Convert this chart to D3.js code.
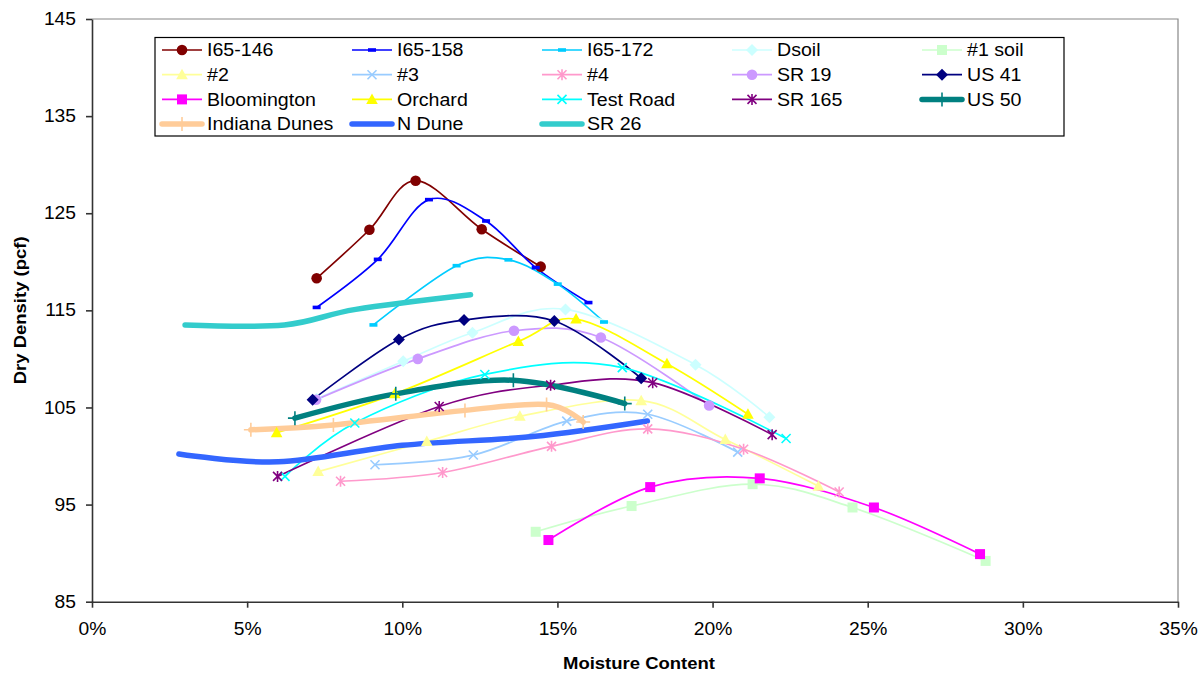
<!DOCTYPE html>
<html>
<head>
<meta charset="utf-8">
<script src="https://cdn.jsdelivr.net/npm/d3@7/dist/d3.min.js"></script>
<style>
  body { margin: 0; background: #fff; }
  text { font-family: "Liberation Sans", Arial, sans-serif; }
</style>
</head>
<body>
<div id="chart"></div>
<script>
// series, in Excel order: [moisture %, dry density pcf]
const seriesNames = ['I65-146', 'I65-158', 'I65-172', 'Dsoil', '#1 soil',
  '#2', '#3', '#4', 'SR 19', 'US 41',
  'Bloomington', 'Orchard', 'Test Road', 'SR 165', 'US 50',
  'Indiana Dunes', 'N Dune', 'SR 26'];

const seriesColors = ['#800000', '#0000FF', '#00CCFF', '#CCFFFF', '#CCFFCC',
  '#FFFF99', '#99CCFF', '#FF99CC', '#CC99FF', '#000080',
  '#FF00FF', '#FFFF00', '#00FFFF', '#800080', '#008080',
  '#FFCC99', '#3366FF', '#33CCCC'];

const seriesMarkers = ['circle', 'dash', 'dash', 'diamond', 'square',
  'triangle', 'x', 'star', 'circle', 'diamond',
  'square', 'triangle', 'x', 'star', 'plus',
  'plus', 'none', 'none'];

const thickSeries = ['US 50', 'Indiana Dunes', 'N Dune', 'SR 26'];

const i65_146 = [[7.24, 118.3], [8.94, 123.3], [10.43, 128.35], [12.56, 123.35], [14.46, 119.5]];
const i65_158 = [[7.24, 115.3], [9.21, 120.25], [10.86, 126.4], [12.7, 124.2], [14.3, 119.4], [16.0, 115.8]];
const i65_172 = [[9.07, 113.5], [11.75, 119.6], [13.42, 120.2], [15.01, 117.7], [16.5, 113.8]];
const dsoil = [[7.24, 105.9], [10.03, 109.75], [12.26, 112.7], [15.26, 115.1], [19.45, 109.4], [21.83, 104.0]];
const soil1 = [[14.3, 92.2], [17.39, 94.85], [21.29, 97.1], [24.51, 94.7], [28.8, 89.2]];
const soil2 = [[7.29, 98.4], [10.79, 101.5], [13.79, 104.1], [17.7, 105.7], [20.41, 101.7], [23.41, 96.9]];
const soil3 = [[9.12, 99.1], [12.29, 100.1], [15.3, 103.6], [17.91, 104.3], [20.81, 100.4]];
const soil4 = [[8.01, 97.4], [11.3, 98.3], [14.81, 101.0], [17.91, 102.8], [21.0, 100.7], [24.08, 96.3]];
const sr19 = [[7.22, 105.8], [10.5, 110.0], [13.6, 112.9], [16.4, 112.2], [19.89, 105.2]];
const us41 = [[7.11, 105.8], [9.89, 112.0], [11.99, 114.0], [14.9, 113.9], [17.7, 108.0]];
const bloomington = [[14.71, 91.35], [17.99, 96.8], [21.52, 97.7], [25.2, 94.7], [28.62, 89.9]];
const orchard = [[5.95, 102.4], [9.76, 106.4], [13.74, 111.8], [15.6, 114.1], [18.53, 109.5], [21.14, 104.3]];
const testRoad = [[6.22, 97.9], [8.47, 103.4], [12.66, 108.4], [17.09, 109.1], [22.37, 101.8]];
const sr165 = [[5.98, 97.9], [11.19, 105.1], [14.78, 107.3], [18.07, 107.55], [21.92, 102.2]];
const us50 = [[6.54, 103.9], [9.79, 106.4], [13.58, 107.8], [17.17, 105.4]];
const indianaDunes = [[5.12, 102.7], [7.78, 103.2], [12.02, 104.7], [14.65, 105.3], [15.83, 103.5]];
const nDune = [[2.8, 100.2], [6.0, 99.4], [10.0, 101.1], [14.2, 102.0], [17.9, 103.6]];
const sr26 = [[3.0, 113.5], [6.2, 113.5], [8.5, 115.1], [12.2, 116.6]];

const seriesValues = [i65_146, i65_158, i65_172, dsoil, soil1,
  soil2, soil3, soil4, sr19, us41,
  bloomington, orchard, testRoad, sr165, us50,
  indianaDunes, nDune, sr26];

const xTicks = [0, 5, 10, 15, 20, 25, 30, 35];
const yTicks = [85, 95, 105, 115, 125, 135, 145];

const width = 1201, height = 675;
const plot = { left: 92, right: 1178, top: 19, bottom: 601.7 };

const svg = d3.select('#chart').append('svg')
  .attr('width', width)
  .attr('height', height)
  .attr('viewBox', [0, 0, width, height]);

const x = d3.scaleLinear().domain([0, 35]).range([plot.left, plot.right]);
const y = d3.scaleLinear().domain([85, 145]).range([plot.bottom, plot.top]);

// the Excel text in the picture is a bit wider than the font: stretch it
function stretch(sel, k) {
  sel.each(function () {
    const w = this.getComputedTextLength();
    d3.select(this).attr('textLength', w * k).attr('lengthAdjust', 'spacingAndGlyphs');
  });
}

// plot border (top / right are light gray in Excel)
svg.append('path')
  .attr('d', `M${plot.left},${plot.top}H${plot.right}V${plot.bottom}`)
  .attr('fill', 'none')
  .attr('stroke', '#888')
  .attr('stroke-width', 1.2);

const yAxis = svg.append('g')
  .attr('transform', `translate(${plot.left},0)`)
  .call(d3.axisLeft(y).tickValues(yTicks).tickSize(6).tickSizeOuter(0).tickPadding(10));

const xAxis = svg.append('g')
  .attr('transform', `translate(0,${plot.bottom})`)
  .call(d3.axisBottom(x).tickValues(xTicks).tickSize(6).tickSizeOuter(0).tickPadding(15)
    .tickFormat(d => d + '%'));

[xAxis, yAxis].forEach(g => {
  g.selectAll('path, line').attr('stroke', '#333').attr('stroke-width', 1.6);
  g.selectAll('text')
    .attr('fill', '#000')
    .style('font-family', '"Liberation Sans", Arial, sans-serif')
    .style('font-size', '17.5px')
    .call(stretch, 1.1);
});

svg.append('text')
  .attr('transform', `translate(26,${(plot.top + plot.bottom) / 2}) rotate(-90)`)
  .attr('text-anchor', 'middle')
  .style('font-size', '16.5px')
  .style('font-weight', 'bold')
  .text('Dry Density (pcf)')
  .call(stretch, 1.12);

svg.append('text')
  .attr('x', (plot.left + plot.right) / 2 + 4)
  .attr('y', 669)
  .attr('text-anchor', 'middle')
  .style('font-size', '16.5px')
  .style('font-weight', 'bold')
  .text('Moisture Content')
  .call(stretch, 1.12);

// Excel smoothed lines are uniform Catmull-Rom splines
const line = d3.line()
  .x(d => x(d[0]))
  .y(d => y(d[1]))
  .curve(d3.curveCatmullRom.alpha(0));

function drawMarker(g, type, color, cx, cy) {
  const sw = 1.6;
  if (type === 'circle') {
    g.append('circle').attr('cx', cx).attr('cy', cy).attr('r', 5.3).attr('fill', color);
  } else if (type === 'dash') {
    g.append('rect').attr('x', cx - 4).attr('y', cy - 1.8).attr('width', 8).attr('height', 3.6).attr('fill', color);
  } else if (type === 'diamond') {
    const r = 6;
    g.append('path').attr('d', `M${cx},${cy - r}L${cx + r},${cy}L${cx},${cy + r}L${cx - r},${cy}Z`).attr('fill', color);
  } else if (type === 'square') {
    g.append('rect').attr('x', cx - 5).attr('y', cy - 5).attr('width', 10).attr('height', 10).attr('fill', color);
  } else if (type === 'triangle') {
    g.append('path').attr('d', `M${cx},${cy - 6}L${cx + 5.8},${cy + 4.5}L${cx - 5.8},${cy + 4.5}Z`).attr('fill', color);
  } else if (type === 'x') {
    const r = 4.5;
    g.append('path').attr('d', `M${cx - r},${cy - r}L${cx + r},${cy + r}M${cx - r},${cy + r}L${cx + r},${cy - r}`)
      .attr('stroke', color).attr('stroke-width', sw).attr('fill', 'none');
  } else if (type === 'star') {
    const r = 4.5;
    g.append('path').attr('d', `M${cx - r},${cy - r}L${cx + r},${cy + r}M${cx - r},${cy + r}L${cx + r},${cy - r}M${cx},${cy - 5.5}V${cy + 5.5}`)
      .attr('stroke', color).attr('stroke-width', sw).attr('fill', 'none');
  } else if (type === 'plus') {
    const r = 7;
    g.append('path').attr('d', `M${cx - r},${cy}H${cx + r}M${cx},${cy - r}V${cy + r}`)
      .attr('stroke', color).attr('stroke-width', sw).attr('fill', 'none');
  }
}

// all lines first, then all markers (as Excel does)
const linesG = svg.append('g');
const markersG = svg.append('g');

seriesValues.forEach((vals, i) => {
  const thick = thickSeries.includes(seriesNames[i]);
  linesG.append('path')
    .datum(vals)
    .attr('d', line)
    .attr('fill', 'none')
    .attr('stroke', seriesColors[i])
    .attr('stroke-width', thick ? 5.5 : 1.7)
    .attr('stroke-linecap', 'round')
    .attr('stroke-linejoin', 'round');
});

seriesValues.forEach((vals, i) => {
  vals.forEach(d => drawMarker(markersG, seriesMarkers[i], seriesColors[i], x(d[0]), y(d[1])));
});

// legend
const legend = svg.append('g');
legend.append('rect')
  .attr('x', 155).attr('y', 37.5)
  .attr('width', 909).attr('height', 98.5)
  .attr('fill', '#fff')
  .attr('stroke', '#000')
  .attr('stroke-width', 1.2);

seriesNames.forEach((name, i) => {
  const col = i % 5, row = Math.floor(i / 5);
  const lx = 162 + col * 190;
  const ly = 50 + row * 24.7;
  const thick = thickSeries.includes(name);
  legend.append('line')
    .attr('x1', lx).attr('x2', lx + 40)
    .attr('y1', ly).attr('y2', ly)
    .attr('stroke', seriesColors[i])
    .attr('stroke-width', thick ? 5.5 : 1.7)
    .attr('stroke-linecap', thick ? 'round' : 'butt');
  drawMarker(legend, seriesMarkers[i], seriesColors[i], lx + 20, ly);
  legend.append('text')
    .attr('x', lx + 45)
    .attr('y', ly + 6.3)
    .style('font-size', '17.5px')
    .text(name)
    .call(stretch, 1.12);
});
</script>
</body>
</html>
